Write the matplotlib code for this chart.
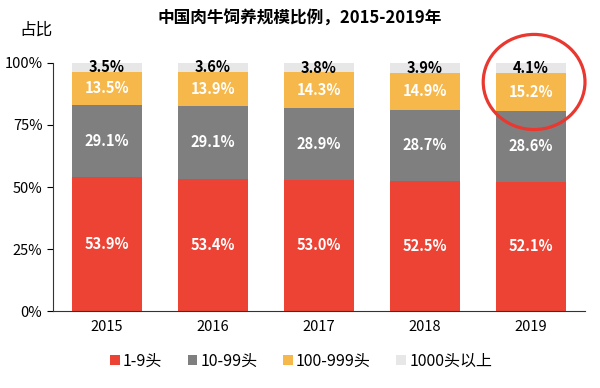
import matplotlib.pyplot as plt
from matplotlib.patches import Ellipse
import numpy as np

plt.rcParams['font.family'] = ['Noto Sans CJK SC', 'DejaVu Sans']

years = ['2015', '2016', '2017', '2018', '2019']
small = [53.9, 53.4, 53.0, 52.5, 52.1]
medium = [29.1, 29.1, 28.9, 28.7, 28.6]
large = [13.5, 13.9, 14.3, 14.9, 15.2]
huge = [3.5, 3.6, 3.8, 3.9, 4.1]
names = ['1-9头', '10-99头', '100-999头', '1000头以上']
colors = ['#EC4335', '#7F7F7F', '#F6B84B', '#E7E7E7']

fig = plt.figure(figsize=(6, 3.88), dpi=100)
ax = fig.add_axes([0.088, 0.198, 0.887, 0.64])

x = np.arange(len(years))
bottom = np.zeros(len(years))
for i, vals in enumerate([small, medium, large, huge]):
    vals = np.array(vals)
    ax.bar(x, vals, 0.66, bottom=bottom, color=colors[i], label=names[i])
    for xi, b, v in zip(x, bottom, vals):
        tc = 'black' if i == 3 else 'white'
        ax.text(xi, b + v / 2, f'{v:.1f}%', ha='center', va='center',
                color=tc, fontsize=10.5, fontweight='bold')
    bottom += vals

ax.set_xlim(-0.51, 4.51)
ax.set_ylim(0, 100)
ax.set_xticks(x)
ax.set_xticklabels(years, fontsize=10.5)
ax.set_yticks([0, 25, 50, 75, 100])
ax.set_yticklabels(['0%', '25%', '50%', '75%', '100%'], fontsize=10.5)
ax.tick_params(axis='x', length=0, pad=6)
ax.tick_params(axis='y', length=4, width=0.8)
for s in ['top', 'right']:
    ax.spines[s].set_visible(False)
ax.spines['left'].set_color('#333333')
ax.spines['bottom'].set_color('#333333')

circle = Ellipse((4.03, 92.3), 0.96, 38.3, fill=False, edgecolor='#E8382F',
                 linewidth=2.3, clip_on=False)
ax.add_patch(circle)

fig.text(0.5, 0.953, '中国肉牛饲养规模比例，2015-2019年', ha='center', va='center',
         fontsize=12, fontweight='bold')
fig.text(0.06, 0.922, '占比', ha='center', va='center', fontsize=12)

fig.legend(loc='center', bbox_to_anchor=(0.502, 0.07), ncol=4, frameon=False,
           fontsize=11.5, handlelength=0.6, handleheight=0.6, handletextpad=0.2,
           columnspacing=1.6)

fig.savefig('out.png', dpi=100)
